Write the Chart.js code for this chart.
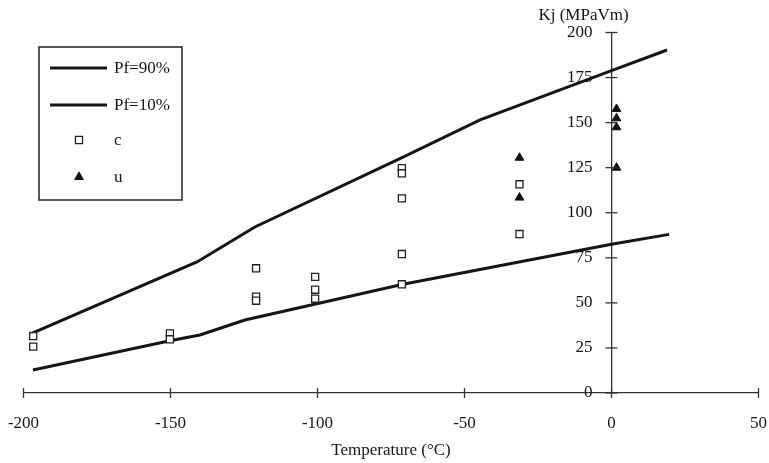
<!DOCTYPE html>
<html>
<head>
<meta charset="utf-8">
<script src="https://cdn.jsdelivr.net/npm/chart.js@4"></script>
<style>
html,body{margin:0;padding:0;background:#fff;}
canvas{display:block;}
</style>
</head>
<body>
<canvas id="c" width="769" height="463"></canvas>
<script>
// ---- data ----
const xTickValues = [-200, -150, -100, -50, 0, 50];
const yTickValues = [0, 25, 50, 75, 100, 125, 150, 175, 200];
const xTitle = 'Temperature (°C)';
const yTitle = 'Kj (MPaVm)';

const pf90X = [-196.8, -141.0, -121.3, -70.9, -44.7, 0, 18.9];
const pf90Y = [33.3, 72.7, 92.1, 130.9, 151.5, 178.8, 190.3];

const pf10X = [-196.8, -150.2, -140.0, -124.7, -70.9, 0, 19.6];
const pf10Y = [12.8, 29.0, 32.2, 40.5, 60.3, 82.5, 88.0];

const cX = [-196.7, -196.7, -150.2, -150.2, -120.9, -120.9, -120.9, -100.8, -100.8, -100.8, -71.3, -71.3, -71.3, -71.3, -71.3, -31.3, -31.3];
const cY = [31.6, 25.7, 33.1, 29.8, 69.2, 53.4, 51.2, 64.4, 57.3, 52.3, 124.7, 121.9, 108.0, 77.1, 60.3, 115.8, 88.2];

const uX = [-31.3, -31.3, 1.7, 1.7, 1.7, 1.7];
const uY = [130.5, 108.4, 157.6, 152.4, 147.4, 125.0];

const toPts = (xs, ys) => xs.map((x, i) => ({x: x, y: ys[i]}));

const FONT = '"Liberation Serif", "Times New Roman", serif';
const INK = '#151515';

// crossing tick marks, y tick labels, y title and boxed legend
const decor = {
  id: 'decor',
  afterDraw(chart) {
    const ctx = chart.ctx;
    const xs = chart.scales.x, ys = chart.scales.y;
    const x0 = xs.getPixelForValue(0), y0 = ys.getPixelForValue(0);
    ctx.save();
    ctx.strokeStyle = '#333';
    ctx.lineWidth = 1.3;
    xTickValues.forEach(v => {
      const px = xs.getPixelForValue(v);
      ctx.beginPath(); ctx.moveTo(px, y0 - 5); ctx.lineTo(px, y0 + 5); ctx.stroke();
    });
    ctx.fillStyle = INK;
    ctx.font = '17px ' + FONT;
    ctx.textAlign = 'right';
    ctx.textBaseline = 'middle';
    yTickValues.forEach(v => {
      const py = ys.getPixelForValue(v);
      ctx.beginPath(); ctx.moveTo(x0 - 6, py); ctx.lineTo(x0 + 6, py); ctx.stroke();
      ctx.fillText(String(v), x0 - 19, py);
    });
    // y axis title
    ctx.textAlign = 'center';
    ctx.fillText(yTitle, x0 - 28, ys.top - 17);

    // legend box
    const bx = 39, by = 47, bw = 143, bh = 153;
    ctx.lineWidth = 1.5;
    ctx.strokeStyle = '#222';
    ctx.strokeRect(bx, by, bw, bh);
    const rows = [68, 105, 140, 177];
    ctx.textAlign = 'left';
    chart.data.datasets.forEach((ds, i) => {
      const ry = rows[i];
      if (ds.showLine) {
        ctx.strokeStyle = ds.borderColor;
        ctx.lineWidth = ds.borderWidth;
        ctx.beginPath(); ctx.moveTo(50, ry); ctx.lineTo(107, ry); ctx.stroke();
      } else {
        ctx.fillStyle = ds.pointBackgroundColor;
        ctx.strokeStyle = ds.pointBorderColor;
        ctx.lineWidth = ds.pointBorderWidth;
        ctx.beginPath();
        if (ds.pointStyle === 'rect') {
          const s = ds.pointRadius * Math.SQRT1_2;
          ctx.rect(79 - s, ry - s, 2 * s, 2 * s);
        } else {
          const r = ds.pointRadius;
          ctx.moveTo(79, ry - r);
          ctx.lineTo(79 + r * Math.sin(Math.PI / 3), ry + r / 2);
          ctx.lineTo(79 - r * Math.sin(Math.PI / 3), ry + r / 2);
          ctx.closePath();
        }
        ctx.fill(); ctx.stroke();
      }
      ctx.fillStyle = INK;
      ctx.font = '17px ' + FONT;
      ctx.textBaseline = 'middle';
      ctx.fillText(ds.label, 114, ry + 1);
    });
    ctx.restore();
  }
};

new Chart(document.getElementById('c'), {
  type: 'scatter',
  data: {
    datasets: [
      {label: 'Pf=90%', data: toPts(pf90X, pf90Y), showLine: true, borderColor: INK, borderWidth: 3,
       pointRadius: 0, tension: 0, order: 2},
      {label: 'Pf=10%', data: toPts(pf10X, pf10Y), showLine: true, borderColor: INK, borderWidth: 3,
       pointRadius: 0, tension: 0, order: 2},
      {label: 'c', data: toPts(cX, cY), showLine: false, pointStyle: 'rect', pointRadius: 5,
       pointBackgroundColor: '#fff', pointBorderColor: '#222', pointBorderWidth: 1.3, order: 0},
      {label: 'u', data: toPts(uX, uY), showLine: false, pointStyle: 'triangle', pointRadius: 5,
       pointBackgroundColor: '#111', pointBorderColor: '#111', pointBorderWidth: 1, order: 0}
    ]
  },
  options: {
    responsive: false,
    animation: false,
    devicePixelRatio: 1,
    layout: {padding: {left: 23.5, right: 10.5, top: 32.5, bottom: 0}},
    plugins: {legend: {display: false}, tooltip: {enabled: false}},
    scales: {
      x: {
        type: 'linear', position: 'bottom', min: -200, max: 50,
        afterBuildTicks: s => { s.ticks = xTickValues.map(v => ({value: v})); },
        afterFit: s => { s.height = 70; s.paddingLeft = 0; s.paddingRight = 0; },
        grid: {drawOnChartArea: false, drawTicks: true, tickLength: 20, tickColor: 'rgba(0,0,0,0)', color: '#333'},
        border: {display: true, color: '#333', width: 1.3},
        ticks: {color: INK, font: {family: FONT, size: 17}, padding: 0, maxRotation: 0, autoSkip: false},
        title: {display: true, text: xTitle, color: INK, font: {family: FONT, size: 17}, padding: {top: 0, bottom: 2}}
      },
      y: {
        type: 'linear', position: {x: 0}, min: 0, max: 200,
        afterBuildTicks: s => { s.ticks = yTickValues.map(v => ({value: v})); },
        afterFit: s => { s.width = 0; s.paddingTop = 0; s.paddingBottom = 0; },
        grid: {drawOnChartArea: false, drawTicks: false, color: '#333'},
        border: {display: true, color: '#333', width: 1.3},
        ticks: {display: false}
      }
    }
  },
  plugins: [decor]
});
</script>
</body>
</html>
